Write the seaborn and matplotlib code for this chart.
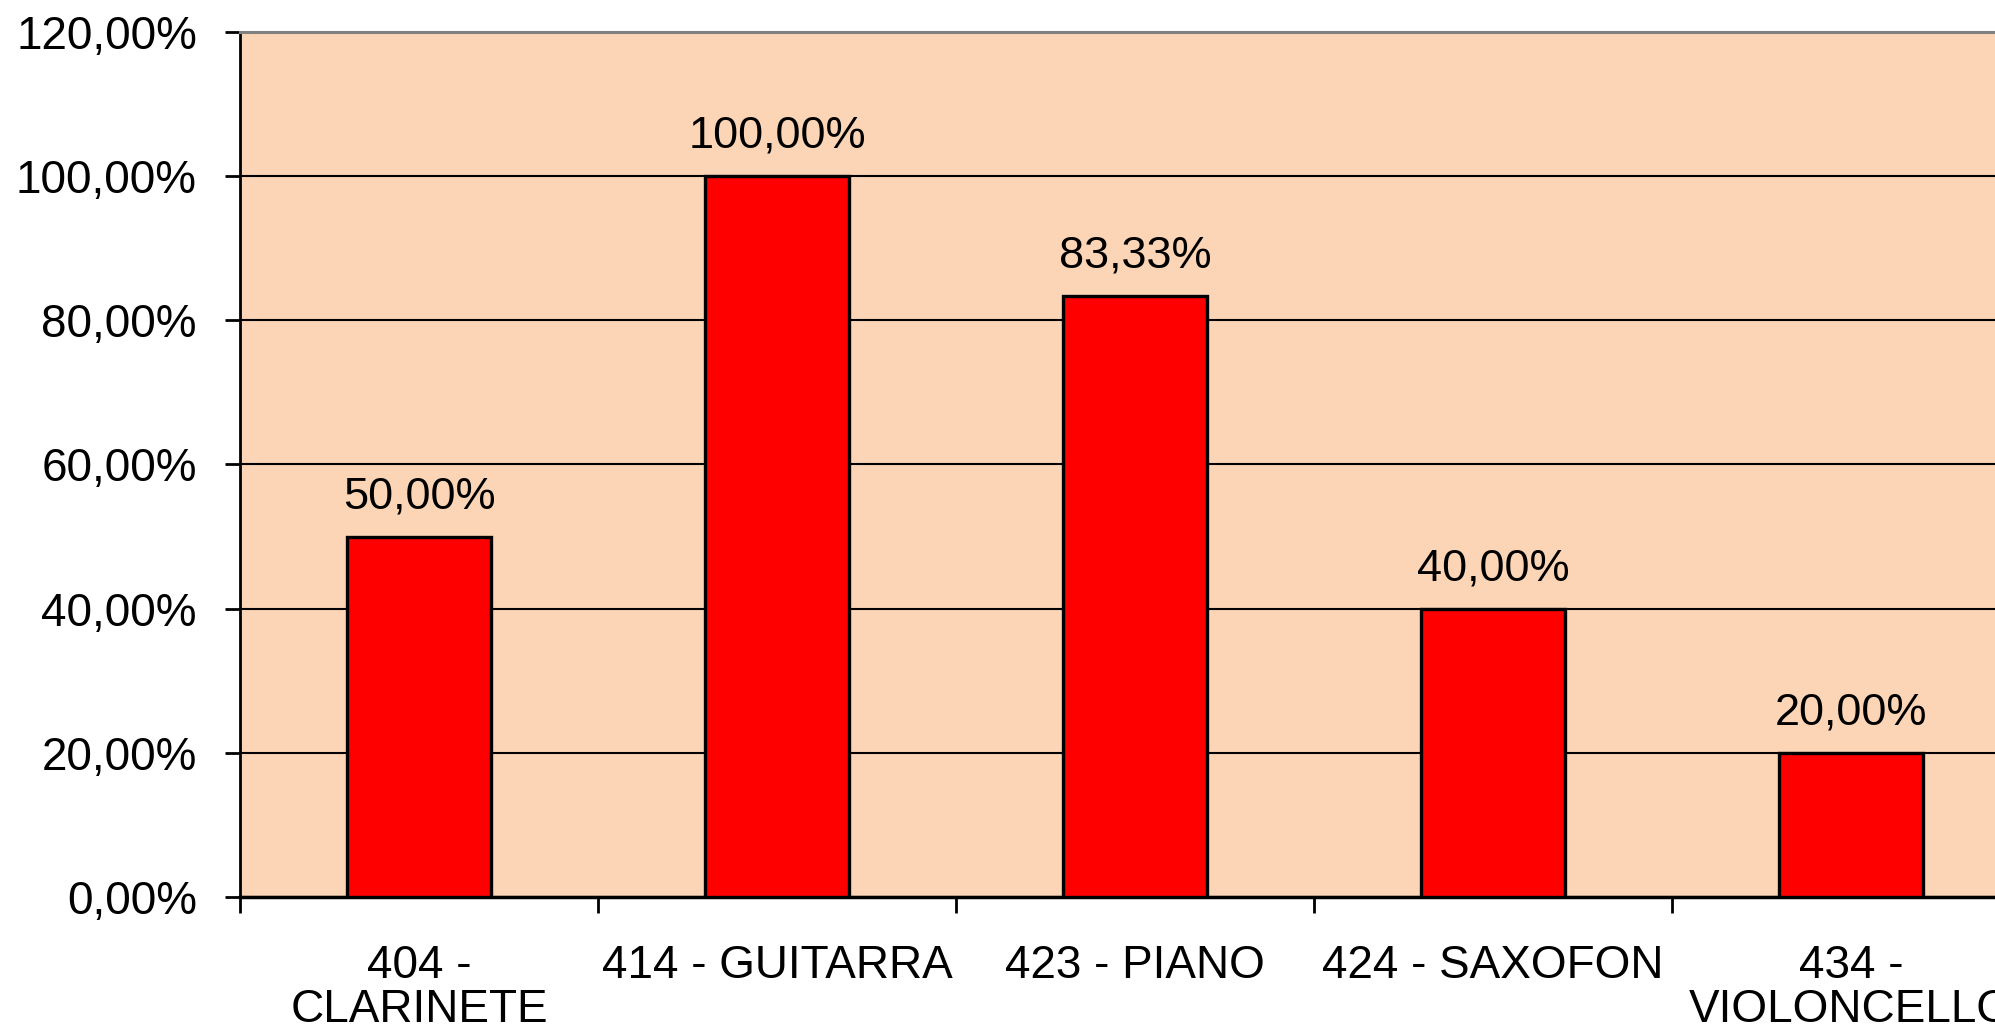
import matplotlib
matplotlib.use("Agg")
import matplotlib.pyplot as plt
import seaborn as sns
from matplotlib.ticker import FuncFormatter, FixedLocator

# Data
categories = ["404 -\nCLARINETE", "414 - GUITARRA", "423 - PIANO", "424 - SAXOFON", "434 -\nVIOLONCELLO"]
values = [50.00, 100.00, 83.33, 40.00, 20.00]
yticks = [0, 20, 40, 60, 80, 100, 120]

plt.rcParams['font.family'] = ['Liberation Sans', 'DejaVu Sans']

fig = plt.figure(figsize=(19.95, 10.31), dpi=100)
# plot area runs past the right edge of the image, like the source
ax = fig.add_axes([240 / 1995, 1 - 897 / 1031, 1790 / 1995, 865 / 1031])
ax.set_facecolor("#FBD5B5")

sns.barplot(x=categories, y=values, color="#FF0000", edgecolor="black",
            linewidth=2.4, width=0.4, saturation=1, ax=ax, zorder=3)

# value labels
for i, v in enumerate(values):
    ax.annotate(f"{v:.2f}%".replace(".", ","), (i, v), xytext=(0, 14),
                textcoords="offset points", ha="center", va="bottom",
                fontsize=32.5, zorder=4)

ax.set_xlim(-0.5, 4.5)
ax.set_ylim(0, 120)
ax.set_yticks(yticks)
ax.yaxis.set_major_formatter(FuncFormatter(lambda v, p: f"{v:.2f}%".replace(".", ",")))
ax.yaxis.grid(True, color="black", linewidth=1.5, zorder=1)
ax.set_axisbelow(True)

ax.set_xticks(range(len(categories)))
ax.set_xticklabels(categories, linespacing=1.0)
ax.xaxis.set_minor_locator(FixedLocator([i - 0.5 for i in range(len(categories) + 1)]))
ax.tick_params(axis="x", which="major", length=0, pad=34, labelsize=33)
ax.tick_params(axis="x", which="minor", length=11.5, width=2, color="black")
ax.tick_params(axis="y", length=11, width=2, pad=20, labelsize=33, color="black")

ax.spines["top"].set_color("#808080")
ax.spines["top"].set_linewidth(2.2)
ax.spines["right"].set_visible(False)
ax.spines["left"].set_color("black")
ax.spines["left"].set_linewidth(2)
ax.spines["bottom"].set_color("black")
ax.spines["bottom"].set_linewidth(2.5)
ax.set_xlabel("")
ax.set_ylabel("")

fig.savefig("out.png", dpi=100)
